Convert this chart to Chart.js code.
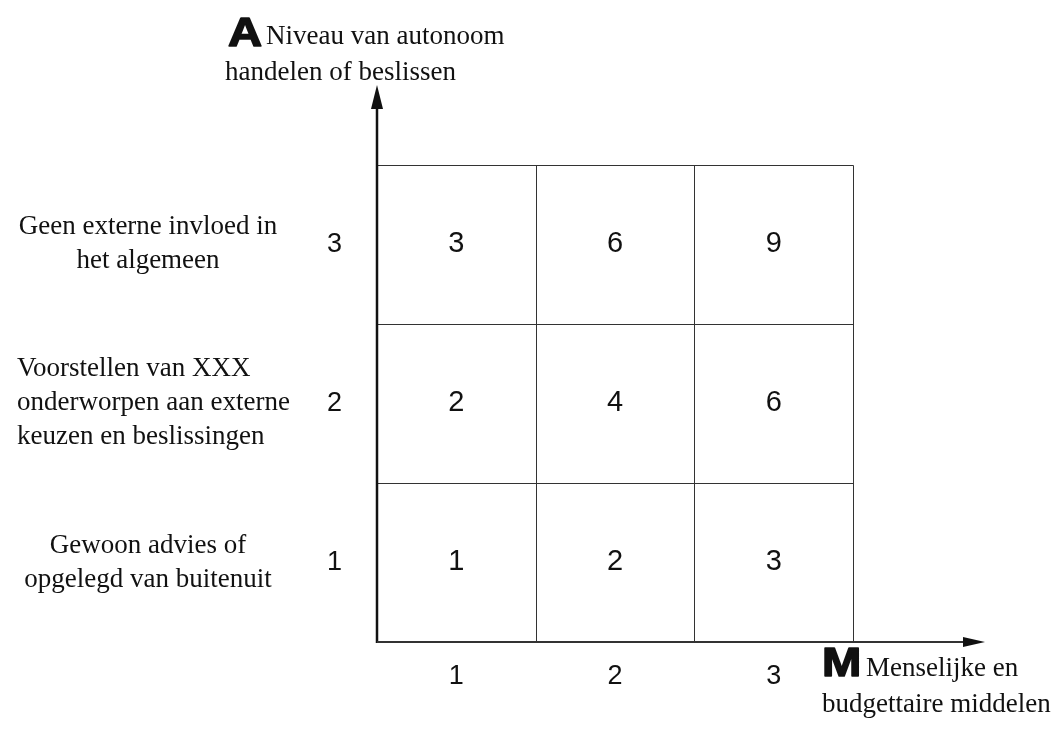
<!DOCTYPE html>
<html>
<head>
<meta charset="utf-8">
<script src="https://cdn.jsdelivr.net/npm/chart.js@4"></script>
<style>
  html, body { margin: 0; padding: 0; background: #fff; }
  #wrap { width: 1055px; height: 742px; }
</style>
</head>
<body>
<div id="wrap"><canvas id="chart" width="1055" height="742"></canvas></div>
<script>
// levels on both axes
const mLevels = [1, 2, 3];
const aLevels = [1, 2, 3];
// score per cell: scores[row a-1][col m-1] = A x M
const scores = [
  [1, 2, 3],
  [2, 4, 6],
  [3, 6, 9]
];
const aDescriptions = [
  ['Gewoon advies of', 'opgelegd van buitenuit'],
  ['Voorstellen van XXX', 'onderworpen aan externe', 'keuzen en beslissingen'],
  ['Geen externe invloed in', 'het algemeen']
];
const aTitle = ['Niveau van autonoom', 'handelen of beslissen'];
const mTitle = ['Menselijke en', 'budgettaire middelen'];

const points = [];
aLevels.forEach((a, i) => {
  mLevels.forEach((m, j) => points.push({ x: m, y: a, v: scores[i][j] }));
});

const serif = '"Liberation Serif", "Times New Roman", serif';
const sans = '"Liberation Sans", Arial, sans-serif';

const matrixPlugin = {
  id: 'matrix',
  afterDatasetsDraw(chart) {
    const ctx = chart.ctx;
    const xs = chart.scales.x, ys = chart.scales.y;
    const area = chart.chartArea;
    const px = v => Math.round(xs.getPixelForValue(v)) + 0.5;
    const py = v => Math.round(ys.getPixelForValue(v)) + 0.5;
    ctx.save();

    // grid of cells, each boundary drawn once
    const xMin = mLevels[0] - 0.5, xMax = mLevels[mLevels.length - 1] + 0.5;
    const yMin = aLevels[0] - 0.5, yMax = aLevels[aLevels.length - 1] + 0.5;
    ctx.strokeStyle = '#333';
    ctx.lineWidth = 1;
    ctx.beginPath();
    mLevels.forEach(m => {
      ctx.moveTo(px(m + 0.5), py(yMin));
      ctx.lineTo(px(m + 0.5), py(yMax));
    });
    aLevels.forEach(a => {
      ctx.moveTo(px(xMin), py(a + 0.5));
      ctx.lineTo(px(xMax), py(a + 0.5));
    });
    ctx.stroke();

    // cell scores
    ctx.fillStyle = '#111';
    ctx.font = '29px ' + sans;
    ctx.textAlign = 'center';
    ctx.textBaseline = 'middle';
    points.forEach(p => {
      ctx.fillText(String(p.v), xs.getPixelForValue(p.x), ys.getPixelForValue(p.y));
    });

    // axis lines + arrowheads
    ctx.strokeStyle = '#111';
    ctx.lineWidth = 2.5;
    ctx.beginPath();
    ctx.moveTo(area.left, area.bottom + 1);
    ctx.lineTo(area.left, area.top + 10);
    ctx.stroke();
    ctx.strokeStyle = '#333';
    ctx.lineWidth = 2;
    ctx.beginPath();
    ctx.moveTo(area.left, area.bottom);
    ctx.lineTo(area.right - 10, area.bottom);
    ctx.stroke();
    ctx.fillStyle = '#111';
    ctx.beginPath();
    ctx.moveTo(area.left, area.top);
    ctx.lineTo(area.left - 6, area.top + 24);
    ctx.lineTo(area.left + 6, area.top + 24);
    ctx.closePath();
    ctx.fill();
    ctx.beginPath();
    ctx.moveTo(area.right, area.bottom);
    ctx.lineTo(area.right - 22, area.bottom - 5);
    ctx.lineTo(area.right - 22, area.bottom + 5);
    ctx.closePath();
    ctx.fill();

    // level descriptions
    ctx.font = '27px ' + serif;
    ctx.textBaseline = 'middle';
    aLevels.forEach((a, i) => {
      const lines = aDescriptions[i];
      const cy = ys.getPixelForValue(a);
      const left = lines.length > 2;
      ctx.textAlign = left ? 'left' : 'center';
      lines.forEach((t, k) => {
        const y = cy + (k - (lines.length - 1) / 2) * 34;
        ctx.fillText(t, left ? 17 : 148, y);
      });
    });

    // axis titles (heavy, slightly widened sans letter + serif caption)
    ctx.textAlign = 'left';
    ctx.textBaseline = 'alphabetic';
    ctx.strokeStyle = '#111';
    ctx.lineWidth = 1.5;
    ctx.lineJoin = 'round';
    [['A', 228, 46], ['M', 822, 676]].forEach(([t, x, y]) => {
      ctx.save();
      ctx.translate(x, y);
      ctx.scale(1.18, 1);
      ctx.font = 'bold 40px ' + sans;
      ctx.fillText(t, 0, 0);
      ctx.strokeText(t, 0, 0);
      ctx.restore();
    });
    ctx.font = '27px ' + serif;
    ctx.fillText(aTitle[0], 266, 44);
    ctx.fillText(aTitle[1], 225, 80);
    ctx.fillText(mTitle[0], 866, 676);
    ctx.fillText(mTitle[1], 822, 712);

    ctx.restore();
  }
};

new Chart(document.getElementById('chart'), {
  type: 'scatter',
  data: {
    datasets: [{
      data: points,
      pointRadius: 0,
      pointHoverRadius: 0
    }]
  },
  options: {
    responsive: false,
    animation: false,
    events: [],
    layout: { padding: { top: 85, right: 70, left: 0, bottom: 0 } },
    plugins: { legend: { display: false }, tooltip: { enabled: false } },
    scales: {
      x: {
        type: 'linear',
        min: 0.5,
        max: 4.33,
        afterBuildTicks: s => { s.ticks = mLevels.map(v => ({ value: v })); },
        afterFit: s => { s.height = 100; },
        grid: { display: false, drawTicks: false },
        border: { display: false },
        ticks: { color: '#111', padding: 18, font: { family: sans, size: 27 } }
      },
      y: {
        type: 'linear',
        min: 0.5,
        max: 4.0,
        afterBuildTicks: s => { s.ticks = aLevels.map(v => ({ value: v })); },
        afterFit: s => { s.width = 377; },
        grid: { display: false, drawTicks: false },
        border: { display: false },
        ticks: { color: '#111', padding: 35, font: { family: sans, size: 27 } }
      }
    }
  },
  plugins: [matrixPlugin]
});
</script>
</body>
</html>
